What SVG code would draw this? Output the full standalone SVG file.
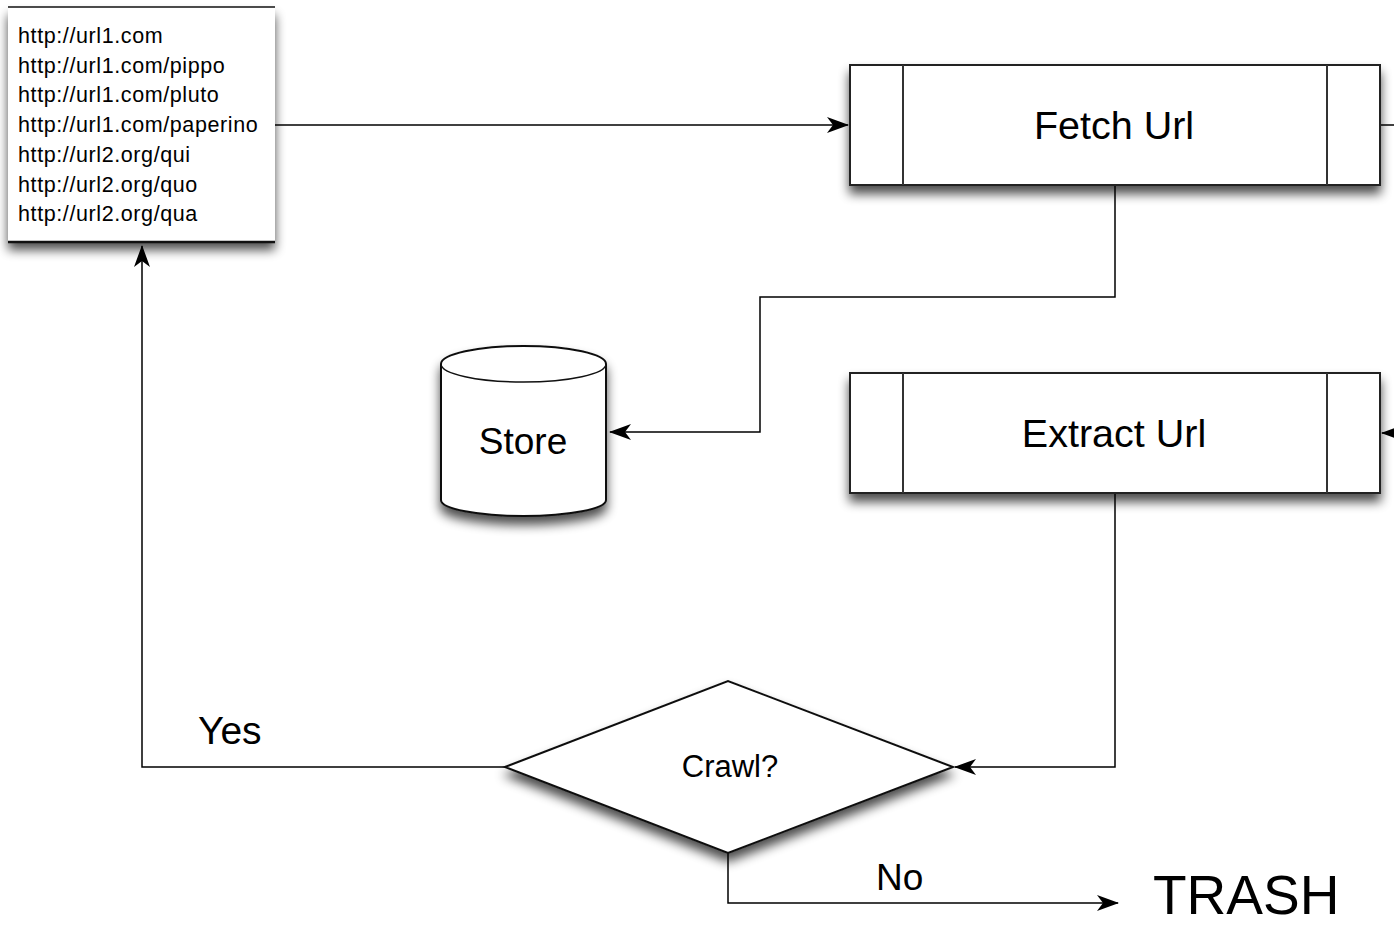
<svg xmlns="http://www.w3.org/2000/svg" width="1394" height="926" viewBox="0 0 1394 926">
<style>
.t{font-family:"Liberation Sans",Arial,Helvetica,sans-serif;fill:#000}
.url{font-size:21.5px;letter-spacing:0.6px}
.big{font-size:39.5px;text-anchor:middle}
.box{fill:#fff;stroke:#222;stroke-width:2}
.ln{fill:none;stroke:#000;stroke-width:1.5}
</style>
<defs>
<filter id="sh" x="-20%" y="-20%" width="140%" height="160%">
<feGaussianBlur in="SourceAlpha" stdDeviation="5.5"/>
<feOffset dx="0" dy="8" result="b"/>
<feComponentTransfer><feFuncA type="linear" slope="0.7"/></feComponentTransfer>
<feMerge><feMergeNode/><feMergeNode in="SourceGraphic"/></feMerge>
</filter>
<marker id="ar" viewBox="0 0 22 16" refX="21" refY="8" markerWidth="22" markerHeight="16" markerUnits="userSpaceOnUse" orient="auto">
<path d="M0,0 L22,8 L0,16 L6,8 Z" fill="#000"/>
</marker>
</defs>
<rect width="1394" height="926" fill="#fff"/>

<g id="connectors">
<path class="ln" d="M275,125 H848" marker-end="url(#ar)"/>
<path class="ln" d="M1380,125 H1394"/>
<path class="ln" d="M1115,185 V297 H760 V432 H610" marker-end="url(#ar)"/>
<path class="ln" d="M1400,433 H1382" marker-end="url(#ar)"/>
<path class="ln" d="M1115,493 V767 H955" marker-end="url(#ar)"/>
<path class="ln" d="M505,767 H142 V246" marker-end="url(#ar)"/>
<path class="ln" d="M728,853 V903 H1118" marker-end="url(#ar)"/>
</g>

<g id="urllist">
<rect x="8" y="7" width="267" height="235" fill="#fff" filter="url(#sh)"/>
<line x1="8" y1="7" x2="275" y2="7" stroke="#111" stroke-width="1.5"/>
<line x1="8" y1="242" x2="275" y2="242" stroke="#111" stroke-width="2.5"/>
<text class="t url" x="18" y="43">http://url1.com</text>
<text class="t url" x="18" y="73">http://url1.com/pippo</text>
<text class="t url" x="18" y="102">http://url1.com/pluto</text>
<text class="t url" x="18" y="132">http://url1.com/paperino</text>
<text class="t url" x="18" y="162">http://url2.org/qui</text>
<text class="t url" x="18" y="192">http://url2.org/quo</text>
<text class="t url" x="18" y="221">http://url2.org/qua</text>
</g>

<g id="fetch">
<rect class="box" x="850" y="65" width="530" height="120" filter="url(#sh)"/>
<line x1="903" y1="65" x2="903" y2="185" stroke="#333" stroke-width="2"/>
<line x1="1327" y1="65" x2="1327" y2="185" stroke="#333" stroke-width="2"/>
<text class="t big" x="1114" y="139">Fetch Url</text>
</g>

<g id="extract">
<rect class="box" x="850" y="373" width="530" height="120" filter="url(#sh)"/>
<line x1="903" y1="373" x2="903" y2="493" stroke="#333" stroke-width="2"/>
<line x1="1327" y1="373" x2="1327" y2="493" stroke="#333" stroke-width="2"/>
<text class="t big" x="1114" y="447">Extract Url</text>
</g>

<g id="store">
<path d="M441,364 A82.5,18 0 0 1 606,364 V500 A82.5,16 0 0 1 441,500 Z" fill="#fff" stroke="#111" stroke-width="2" filter="url(#sh)"/>
<path d="M441,364 A82.5,18 0 0 0 606,364" fill="none" stroke="#111" stroke-width="1.5"/>
<text class="t" x="523" y="454" font-size="37" text-anchor="middle">Store</text>
</g>

<g id="crawl">
<path d="M505,767 L728,681 L953,767 L728,853 Z" fill="#fff" stroke="#111" stroke-width="2" filter="url(#sh)"/>
<text class="t" x="730" y="777" font-size="31" text-anchor="middle">Crawl?</text>
</g>

<g id="labels">
<text class="t" x="198" y="744" font-size="39">Yes</text>
<text class="t" x="876" y="890" font-size="37">No</text>
<text class="t" x="1153" y="914" font-size="55">TRASH</text>
</g>
</svg>
